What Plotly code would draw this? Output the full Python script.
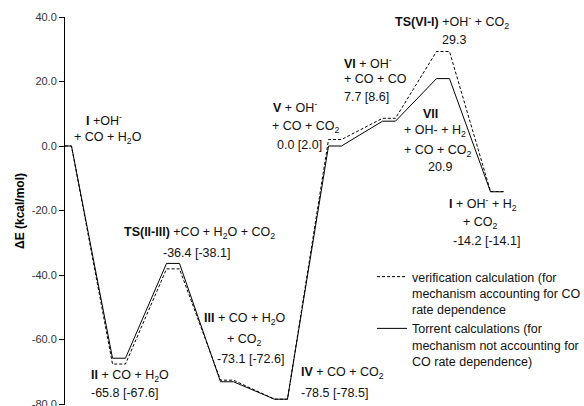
import plotly.graph_objects as go

# ---------------- data ----------------
steps = [0, 1, 2, 3, 4, 5, 6, 7, 8]
torrent = [0.0, -65.8, -36.4, -73.1, -78.5, 0.0, 7.7, 20.9, -14.2]        # solid
verification = [0.0, -67.6, -38.1, -72.6, -78.5, 2.0, 8.6, 29.3, -14.1]   # dashed
y_ticks = [40, 20, 0, -20, -40, -60, -80]
y_tick_labels = ["40.0", "20.0", "0.0", "-20.0", "-40.0", "-60.0", "-80.0"]

name_verif = "verification calculation (for<br>mechanism accounting for CO<br>rate dependence"
name_torrent = "Torrent calculations (for<br>mechanism not accounting for<br>CO rate dependence)"

HALF = 0.12  # half-width of an energy level (in step units)


def level_path(vals):
    xs, ys = [], []
    for k, v in zip(steps, vals):
        xs += [max(0, k - HALF), k + HALF]
        ys += [v, v]
    return xs, ys


# ---------------- layout geometry (pixels) ----------------
W, H = 584, 406
ML, MR, MT, MB = 65, 0, 17, 1
PW, PH = W - ML - MR, H - MT - MB
FONT = "Arial, Liberation Sans, sans-serif"
Y_LO, Y_HI = -80.3, 40


def px(x):
    return (x - ML) / PW


def py(y):
    return (H - MB - y) / PH


fig = go.Figure()
xv, yv = level_path(verification)
fig.add_trace(go.Scatter(x=xv, y=yv, mode="lines", name=name_verif,
                         line=dict(color="black", width=1, dash="3px,2px")))
xt, yt = level_path(torrent)
fig.add_trace(go.Scatter(x=xt, y=yt, mode="lines", name=name_torrent,
                         line=dict(color="black", width=1)))

# label lines: (text, x_px, y_px, anchor)
labels = [
    ("<b>I</b> +OH<sup>-</sup>", 104, 120, "center"),
    ("+ CO + H<sub>2</sub>O", 108, 138, "center"),
    ("<b>II</b> + CO + H<sub>2</sub>O", 89, 376, "left"),
    ("-65.8 [-67.6]", 89, 393, "left"),
    ("<b>TS(II-III)</b> +CO + H<sub>2</sub>O + CO<sub>2</sub>", 199, 233, "center"),
    ("-36.4 [-38.1]", 196, 253, "center"),
    ("<b>III</b> + CO + H<sub>2</sub>O", 202, 319, "left"),
    ("+ CO<sub>2</sub>", 225, 340, "left"),
    ("-73.1 [-72.6]", 215, 359, "left"),
    ("<b>IV</b> + CO + CO<sub>2</sub>", 299, 373, "left"),
    ("-78.5 [-78.5]", 299, 393, "left"),
    ("<b>V</b> + OH<sup>-</sup>", 271, 107, "left"),
    ("+ CO + CO<sub>2</sub>", 270, 127, "left"),
    ("0.0 [2.0]", 275, 145, "left"),
    ("<b>VI</b> + OH<sup>-</sup>", 342, 63, "left"),
    ("+ CO + CO", 342, 79, "left"),
    ("7.7 [8.6]", 342, 97, "left"),
    ("<b>TS(VI-I)</b> +OH<sup>-</sup> + CO<sub>2</sub>", 452, 22, "center"),
    ("29.3", 454, 40, "center"),
    ("<b>VII</b>", 430, 114, "center"),
    ("+ OH- + H<sub>2</sub>", 435, 131, "center"),
    ("+ CO + CO<sub>2</sub>", 438, 151, "center"),
    ("20.9", 440, 167, "center"),
    ("<b>I</b> + OH<sup>-</sup> + H<sub>2</sub>", 483, 204, "center"),
    ("+ CO<sub>2</sub>", 480, 223, "center"),
    ("-14.2 [-14.1]", 486, 241, "center"),
]
for text, x, y, anc in labels:
    fig.add_annotation(text=text, x=px(x), y=py(y), xref="paper", yref="paper",
                       xanchor=anc, yanchor="middle", showarrow=False,
                       font=dict(family=FONT, size=12.5, color="#111"))

fig.update_layout(
    width=W, height=H,
    margin=dict(l=ML, r=MR, t=MT, b=MB, autoexpand=False),
    paper_bgcolor="white", plot_bgcolor="white",
    font=dict(family=FONT, size=12, color="black"),
    showlegend=True,
    legend=dict(x=px(372), y=py(262), xanchor="left", yanchor="top",
                valign="top", bgcolor="rgba(0,0,0,0)",
                font=dict(family=FONT, size=12.5, color="#111")),
    xaxis=dict(visible=False, range=[0, PW / 54.0], fixedrange=True),
    yaxis=dict(range=[Y_LO, Y_HI], tickvals=y_ticks, ticktext=y_tick_labels,
               ticklabeloverflow="allow",
               showgrid=False, zeroline=False, showline=True,
               linecolor="black", linewidth=1, ticks="outside", ticklen=5,
               tickcolor="black", tickfont=dict(family=FONT, size=11, color="#333"),
               title=dict(text="<b>ΔE (kcal/mol)</b>", standoff=4,
                          font=dict(family=FONT, size=12, color="black"))),
)

fig.write_html("out.html", config={"displayModeBar": False},
               post_script="document.body.style.margin='0';document.body.style.padding='0';")
